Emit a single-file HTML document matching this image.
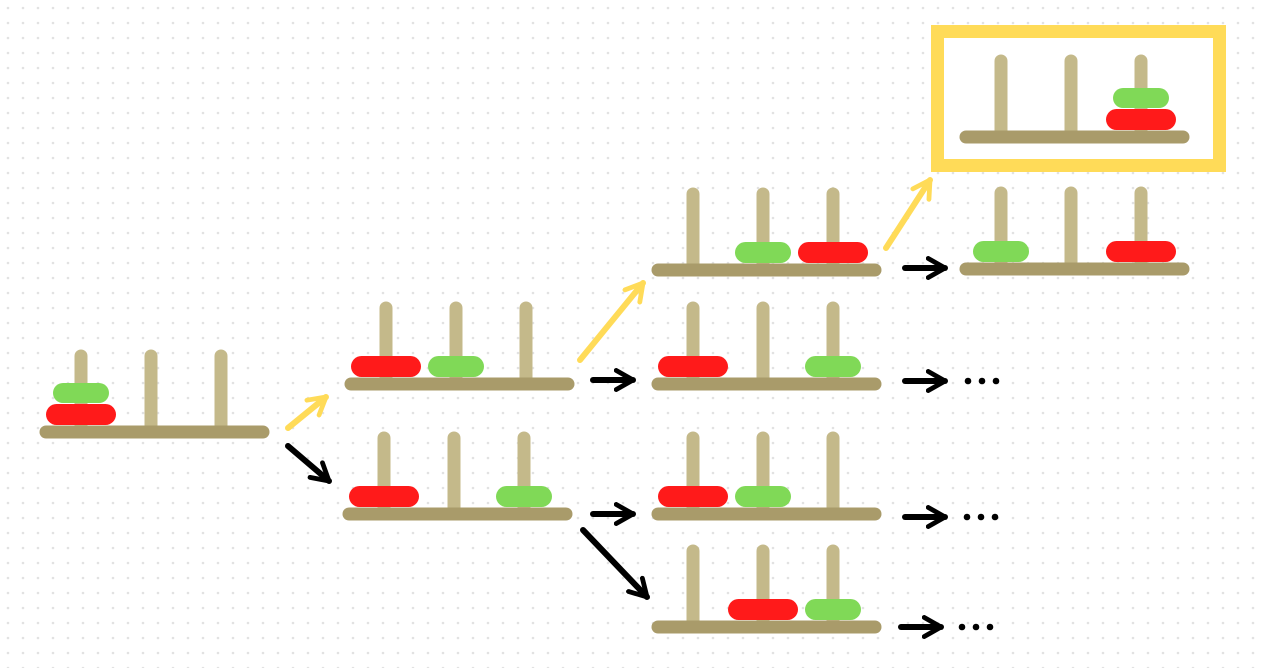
<!DOCTYPE html>
<html><head><meta charset="utf-8"><style>
html,body{margin:0;padding:0;background:#fff;width:1263px;height:668px;overflow:hidden}
</style></head><body>
<svg width="1263" height="668" viewBox="0 0 1263 668" xmlns="http://www.w3.org/2000/svg">
<defs>
<pattern id="dots" width="15" height="15" patternUnits="userSpaceOnUse" x="6" y="6">
<circle cx="2" cy="2" r="1.3" fill="#e2e2e2"/>
</pattern>
<g id="tw">
<line x1="41" y1="-76" x2="41" y2="0" stroke="#c4b98a" stroke-width="13" stroke-linecap="round"/>
<line x1="111" y1="-76" x2="111" y2="0" stroke="#c4b98a" stroke-width="13" stroke-linecap="round"/>
<line x1="181" y1="-76" x2="181" y2="0" stroke="#c4b98a" stroke-width="13" stroke-linecap="round"/>
<line x1="6" y1="0" x2="223" y2="0" stroke="#a99b6a" stroke-width="13" stroke-linecap="round"/>
</g>
<rect id="red" x="-35" y="-28" width="70" height="21" rx="10.5" fill="#ff1a1a"/>
<rect id="grn" x="-28" y="-49" width="56" height="20" rx="10" fill="#80d957"/>
<rect id="grnb" x="-28" y="-28" width="56" height="21" rx="10.5" fill="#80d957"/>
<marker id="ab" viewBox="0 0 10 10" refX="8" refY="5" markerWidth="4" markerHeight="4" orient="auto" markerUnits="strokeWidth"><path d="M1,1 L8,5 L1,9" fill="none" stroke="#000" stroke-width="2" stroke-linecap="round" stroke-linejoin="round"/></marker>
<marker id="ay" viewBox="0 0 10 10" refX="8" refY="5" markerWidth="4" markerHeight="4" orient="auto" markerUnits="strokeWidth"><path d="M1,1 L8,5 L1,9" fill="none" stroke="#ffdb58" stroke-width="2" stroke-linecap="round" stroke-linejoin="round"/></marker>
</defs>
<rect width="1263" height="668" fill="url(#dots)"/>
<rect x="937.5" y="31.5" width="282" height="134" fill="#fff" stroke="#ffdb58" stroke-width="13"/>

<!-- T1 -->
<g transform="translate(40,432)"><use href="#tw"/><use href="#red" x="41"/><use href="#grn" x="41"/></g>
<!-- T2a -->
<g transform="translate(345,384)"><use href="#tw"/><use href="#red" x="41"/><use href="#grnb" x="111"/></g>
<!-- T2b -->
<g transform="translate(343,514)"><use href="#tw"/><use href="#red" x="41"/><use href="#grnb" x="181"/></g>
<!-- T3a -->
<g transform="translate(652,270)"><use href="#tw"/><use href="#grnb" x="111"/><use href="#red" x="181"/></g>
<!-- T3b -->
<g transform="translate(652,384)"><use href="#tw"/><use href="#red" x="41"/><use href="#grnb" x="181"/></g>
<!-- T3c -->
<g transform="translate(652,514)"><use href="#tw"/><use href="#red" x="41"/><use href="#grnb" x="111"/></g>
<!-- T3d -->
<g transform="translate(652,627)"><use href="#tw"/><use href="#red" x="111"/><use href="#grnb" x="181"/></g>
<!-- T4a -->
<g transform="translate(960,137)"><use href="#tw"/><use href="#red" x="181"/><use href="#grn" x="181"/></g>
<!-- T4b -->
<g transform="translate(960,269)"><use href="#tw"/><use href="#grnb" x="41"/><use href="#red" x="181"/></g>

<g stroke-width="6" stroke-linecap="round" fill="none">
<line x1="288" y1="428" x2="326" y2="397" stroke="#ffdb58" marker-end="url(#ay)"/>
<line x1="580" y1="360" x2="643" y2="283" stroke="#ffdb58" marker-end="url(#ay)"/>
<line x1="886" y1="248" x2="930" y2="180" stroke="#ffdb58" marker-end="url(#ay)"/>
<line x1="288" y1="446" x2="329" y2="481" stroke="#000" marker-end="url(#ab)"/>
<line x1="583" y1="530" x2="647" y2="597" stroke="#000" marker-end="url(#ab)"/>
<line x1="593" y1="380" x2="633" y2="380" stroke="#000" marker-end="url(#ab)"/>
<line x1="593" y1="514" x2="633" y2="514" stroke="#000" marker-end="url(#ab)"/>
<line x1="905" y1="268" x2="945" y2="268" stroke="#000" marker-end="url(#ab)"/>
<line x1="905" y1="381" x2="945" y2="381" stroke="#000" marker-end="url(#ab)"/>
<line x1="905" y1="517" x2="945" y2="517" stroke="#000" marker-end="url(#ab)"/>
<line x1="901" y1="627" x2="941" y2="627" stroke="#000" marker-end="url(#ab)"/>
</g>
<g fill="#000">
<circle cx="968" cy="381" r="3.3"/><circle cx="982" cy="381" r="3.3"/><circle cx="996" cy="381" r="3.3"/>
<circle cx="967" cy="517" r="3.3"/><circle cx="981" cy="517" r="3.3"/><circle cx="995" cy="517" r="3.3"/>
<circle cx="962" cy="627" r="3.3"/><circle cx="976" cy="627" r="3.3"/><circle cx="990" cy="627" r="3.3"/>
</g>
</svg>
</body></html>
